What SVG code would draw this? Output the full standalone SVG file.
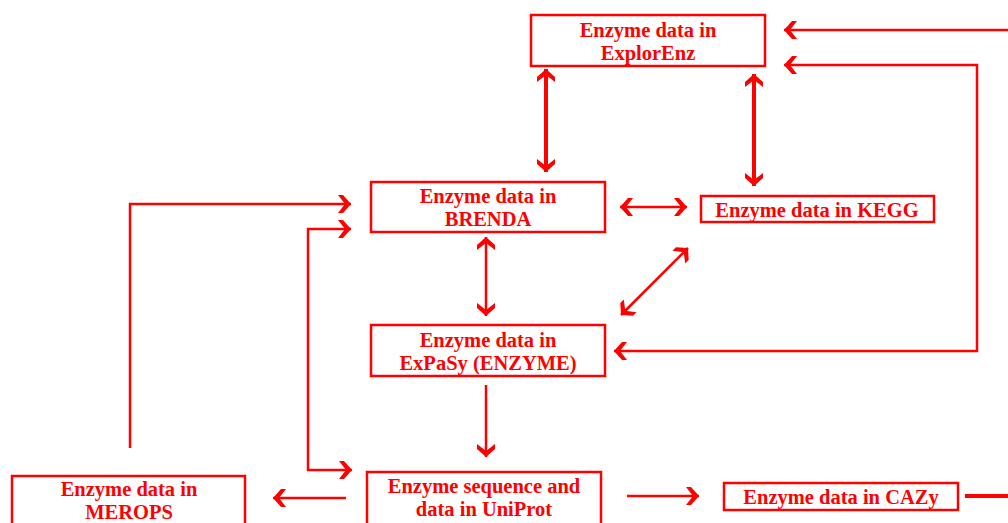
<svg xmlns="http://www.w3.org/2000/svg" width="1008" height="523" viewBox="0 0 1008 523">
<style>
.box{fill:#fff;stroke:#ff0000;stroke-width:2.5}
.t{font-family:"Liberation Serif","Times New Roman",serif;font-weight:bold;font-size:20.5px;fill:#ff0000;text-anchor:middle}
.c{fill:none;stroke:#ff0000;stroke-width:2.5}
.thick{stroke-width:4}
</style>
<defs>
<marker id="ah" markerUnits="userSpaceOnUse" viewBox="-1 -10 15 20" refX="13" refY="0" markerWidth="15" markerHeight="20" orient="auto-start-reverse">
<path d="M0,-9 L5,-9 L13,0 L5,9 L0,9 L7,0 Z" fill="#ff0000"/>
</marker>
</defs>
<g id="connectors">
<line class="c thick" x1="546" y1="69" x2="546" y2="172" marker-start="url(#ah)" marker-end="url(#ah)"/>
<line class="c thick" x1="754" y1="74" x2="754" y2="186" marker-start="url(#ah)" marker-end="url(#ah)"/>
<line class="c" x1="1008" y1="30" x2="784" y2="30" marker-end="url(#ah)"/>
<polyline class="c" points="614,351 977,351 977,65 784,65" marker-start="url(#ah)" marker-end="url(#ah)"/>
<line class="c" x1="620" y1="207" x2="687" y2="207" marker-start="url(#ah)" marker-end="url(#ah)"/>
<line class="c" x1="486" y1="237" x2="486" y2="316" marker-start="url(#ah)" marker-end="url(#ah)"/>
<line class="c" x1="688" y1="248" x2="621" y2="315" marker-start="url(#ah)" marker-end="url(#ah)"/>
<line class="c" x1="486" y1="385" x2="486" y2="457" marker-end="url(#ah)"/>
<polyline class="c" points="130,448 130,204 351,204" marker-end="url(#ah)"/>
<polyline class="c" points="352,470 308,470 308,229 351,229" marker-start="url(#ah)" marker-end="url(#ah)"/>
<line class="c" x1="346" y1="498" x2="273" y2="498" marker-end="url(#ah)"/>
<line class="c" x1="627" y1="496" x2="699" y2="496" marker-end="url(#ah)"/>
<line class="c thick" x1="965" y1="496" x2="1008" y2="496"/>
</g>
<g id="explorenz">
<rect class="box" x="531" y="15" width="234" height="51"/>
<text class="t" x="648" y="37">Enzyme data in</text>
<text class="t" x="648" y="60">ExplorEnz</text>
</g>
<g id="brenda">
<rect class="box" x="371" y="182" width="234" height="50"/>
<text class="t" x="488" y="203">Enzyme data in</text>
<text class="t" x="488" y="226">BRENDA</text>
</g>
<g id="kegg">
<rect class="box" x="701" y="196" width="233" height="26"/>
<text class="t" x="817" y="217">Enzyme data in KEGG</text>
</g>
<g id="expasy">
<rect class="box" x="371" y="325" width="234" height="51"/>
<text class="t" x="488" y="347">Enzyme data in</text>
<text class="t" x="488" y="370">ExPaSy (ENZYME)</text>
</g>
<g id="uniprot">
<rect class="box" x="367" y="472" width="234" height="60"/>
<text class="t" x="484" y="493">Enzyme sequence and</text>
<text class="t" x="484" y="516">data in UniProt</text>
</g>
<g id="merops">
<rect class="box" x="12" y="476" width="233" height="60"/>
<text class="t" x="129" y="496">Enzyme data in</text>
<text class="t" x="129" y="519">MEROPS</text>
</g>
<g id="cazy">
<rect class="box" x="724" y="483" width="234" height="27"/>
<text class="t" x="841" y="504">Enzyme data in CAZy</text>
</g>
</svg>
